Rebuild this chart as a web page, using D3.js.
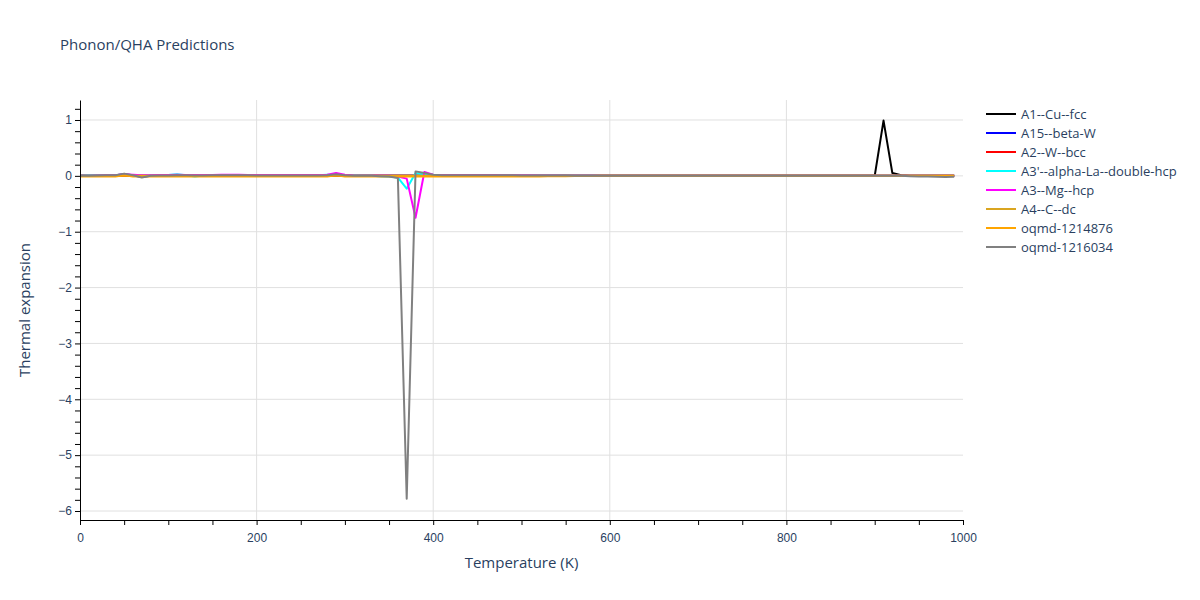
<!DOCTYPE html>
<html>
<head>
<meta charset="utf-8">
<script src="https://cdn.jsdelivr.net/npm/d3@7"></script>
<style>
  body { margin: 0; background: #fff; font-family: "Open Sans", "DejaVu Sans", sans-serif; }
  .gridline line { stroke: #e0e0e0; stroke-width: 1; }
  .axisText { fill: #2a3f5f; font-size: 15px; }
  .tickText { fill: #2a3f5f; font-size: 12px; }
  .legendText { fill: #2a3f5f; font-size: 13px; }
</style>
</head>
<body>
<div class="chart"></div>
<script>
// Data
var temperatures = [0,10,20,30,40,50,60,70,80,90,100,110,120,130,140,150,160,170,180,190,
  200,210,220,230,240,250,260,270,280,290,300,310,320,330,340,350,360,370,380,390,
  400,410,420,430,440,450,460,470,480,490,500,510,520,530,540,550,560,570,580,590,
  600,610,620,630,640,650,660,670,680,690,700,710,720,730,740,750,760,770,780,790,
  800,810,820,830,840,850,860,870,880,890,900,910,920,930,940,950,960,970,980,990];

var seriesNames = ["A1--Cu--fcc", "A15--beta-W", "A2--W--bcc", "A3'--alpha-La--double-hcp",
  "A3--Mg--hcp", "A4--C--dc", "oqmd-1214876", "oqmd-1216034"];

var seriesColors = ["black", "blue", "red", "cyan", "magenta", "goldenrod", "orange", "gray"];

var cuFcc = [0,0,0,0,0,0,0,0,0,0,0,0,0,0,0,0,0,0,0,0,
  0,0,0,0,0,0,0,0,0,0,0,0,0,0,0,0,0,0,0,0,
  0,0,0,0,0,0,0,0,0,0,0,0,0,0,0,0,0,0,0,0,
  0,0,0,0,0,0,0,0,0,0,0,0,0,0,0,0,0,0,0,0,
  0,0,0,0,0,0,0,0,0,0,0,0.99,0.05,0.01,0,0,0,0,0,0];

var betaW = [0,0,0.005,0.01,0.01,0.03,0.01,-0.02,0,0.005,0.01,0.015,0.01,0.005,0.01,0.01,0.015,0.015,0.01,0.01,
  0.01,0.01,0.01,0.01,0.01,0.01,0.01,0.01,0.01,0.02,0.01,0,0,0,0,0,0,0,0,0,
  0,0,0,0,0,0,0,0,0,0,0,0,0,0,0,0,0,0,0,0,
  0,0,0,0,0,0,0,0,0,0,0,0,0,0,0,0,0,0,0,0,
  0,0,0,0,0,0,0,0,0,0,0,0,0,0,0,0,0,0,0,0];

var wBcc = [0,0,0,0,0,0,0,0,0,0,0,0,0,0,0,0,0,0,0,0,
  0,0,0,0,0,0,0,0,0,0,0,0,0,0,0,0,0,0,0,0,
  0,0,0,0,0,0,0,0,0,0,0,0,0,0,0,0,0,0,0,0,
  0,0,0,0,0,0,0,0,0,0,0,0,0,0,0,0,0,0,0,0,
  0,0,0,0,0,0,0,0,0,0,0,0,0,0,0,0,0,0,0,0];

var alphaLa = [0,0.01,0.01,0.01,0.01,0.02,0.01,0,0.005,0.01,0.015,0.03,0.01,-0.01,0.005,0.01,0.01,0.01,0.01,0.01,
  0.01,0.01,0.01,0.01,0.01,0.01,0.01,0.01,0.02,0.02,0.01,0.005,0,0,-0.005,-0.01,-0.03,-0.23,0.05,0.03,
  0.02,0.015,0.015,0.015,0.015,0.015,0.015,0.015,0.012,0.012,0.01,0.01,0.008,0.006,0.005,0.004,0.003,0.002,0.001,0,
  0,0,0,0,0,0,0,0,0,0,0,0,0,0,0,0,0,0,0,0,
  0,0,0,0,0,0,0,0,0,0,0,0,0,0,0,0,0,0,0,0];

var mgHcp = [0,0,0.005,0.01,0.01,0.03,0.02,0.01,0.01,0.015,0.015,0.02,0.015,0.015,0.015,0.015,0.02,0.02,0.02,0.015,
  0.015,0.015,0.015,0.015,0.015,0.015,0.015,0.015,0.02,0.05,0.02,0.005,0,0,0,0,-0.01,-0.05,-0.75,0.07,
  0.02,0.015,0.015,0.015,0.015,0.015,0.015,0.015,0.012,0.012,0.01,0.01,0.008,0.006,0.005,0.004,0.003,0.002,0.001,0,
  0,0,0,0,0,0,0,0,0,0,0,0,0,0,0,0,0,0,0,0,
  0,0,0,0,0,0,0,0,0,0,0,0,0,0,0,0,0,0,0,0];

var cDc = [0,0,0,0,0,0,0,0,0,0,0,0,0,0,0,0,0,0,0,0,
  0,0,0,0,0,0,0,0,0,0,0,0,0,0,0,0,0,0,0,0,
  0,0,0,0,0,0,0,0,0,0,0,0,0,0,0,0,0,0,0,0,
  0,0,0,0,0,0,0,0,0,0,0,0,0,0,0,0,0,0,0,0,
  0,0,0,0,0,0,0,0,0,0,0,0,0,0,0,0,0,0,0,0];

var oqmd1214876 = [-0.01,-0.01,-0.01,-0.01,-0.01,0.01,-0.01,-0.01,-0.01,-0.01,-0.01,-0.01,-0.01,-0.01,-0.01,-0.01,-0.01,-0.01,-0.01,-0.01,
  -0.01,-0.01,-0.01,-0.01,-0.01,-0.01,-0.01,-0.01,-0.01,0.01,-0.01,-0.01,-0.01,-0.01,-0.01,-0.01,-0.01,-0.01,-0.01,-0.01,
  -0.01,-0.01,-0.01,-0.01,-0.01,-0.01,-0.01,-0.01,-0.01,-0.01,-0.01,-0.01,-0.01,-0.008,-0.006,-0.005,-0.004,-0.003,-0.002,0,
  0,0,0,0,0,0,0,0,0,0,0,0,0,0,0,0,0,0,0,0,
  0,0,0,0,0,0,0,0,0,0,0,0,0,0,0,0,0,0,0,0];

var oqmd1216034 = [0,0,0.005,0.01,0.01,0.04,0.01,-0.03,0,0.005,0.005,0.01,0.01,0.005,0.005,0.01,0.01,0.01,0.01,0.01,
  0.005,0.005,0.005,0.005,0.005,0.005,0.005,0.005,0.01,0.03,0.01,0,0,0,-0.005,-0.01,-0.04,-5.78,0.08,0.05,
  0.02,0.01,0.01,0.01,0.01,0.01,0.01,0.01,0.01,0.01,0.005,0.005,0.005,0.005,0.005,0.005,0,0,0,0,
  0,0,0,0,0,0,0,0,0,0,0,0,0,0,0,0,0,0,0,0,
  0,0,0,0,0,0,0,0,0,0,0,0,0,0,-0.005,-0.01,-0.01,-0.015,-0.02,-0.015];

var seriesValues = [cuFcc, betaW, wBcc, alphaLa, mgHcp, cDc, oqmd1214876, oqmd1216034];

var yMajorTicks = [-6, -5, -4, -3, -2, -1, 0, 1];
var xMajorTicks = [0, 200, 400, 600, 800, 1000];

var svgWidth = 1200;
var svgHeight = 600;

var margin = {
  top: 100,
  right: 237,
  bottom: 80,
  left: 80
};

var width = svgWidth - margin.left - margin.right;
var height = svgHeight - margin.top - margin.bottom;

var svg = d3.select(".chart")
  .append("svg")
  .attr("width", svgWidth)
  .attr("height", svgHeight);

var chartGroup = svg.append("g")
  .attr("transform", `translate(${margin.left}, ${margin.top})`);

// Step 1: scales
var xLinearScale = d3.scaleLinear()
  .domain([0, 1000])
  .range([0, width]);

var yLinearScale = d3.scaleLinear()
  .domain([-6.161, 1.358])
  .range([height, 0]);

// Step 2: gridlines
chartGroup.append("g")
  .attr("class", "gridline")
  .selectAll("line")
  .data(xMajorTicks.slice(1, -1))
  .enter()
  .append("line")
  .attr("x1", d => xLinearScale(d))
  .attr("x2", d => xLinearScale(d))
  .attr("y1", 0)
  .attr("y2", height);

chartGroup.append("g")
  .attr("class", "gridline")
  .selectAll("line")
  .data(yMajorTicks)
  .enter()
  .append("line")
  .attr("x1", 0)
  .attr("x2", width)
  .attr("y1", d => yLinearScale(d))
  .attr("y2", d => yLinearScale(d));

// Step 3: lines
var line = d3.line()
  .x((d, i) => xLinearScale(temperatures[i]))
  .y(d => yLinearScale(d));

chartGroup.append("g")
  .selectAll("path")
  .data(seriesValues)
  .enter()
  .append("path")
  .attr("d", d => line(d))
  .attr("fill", "none")
  .attr("stroke", (d, i) => seriesColors[i])
  .attr("stroke-width", 2)
  .attr("stroke-linejoin", "round");

// Step 4: axes
var bottomAxis = d3.axisBottom(xLinearScale)
  .tickValues(d3.range(0, 1001, 50))
  .tickSize(5)
  .tickFormat(d => xMajorTicks.indexOf(d) >= 0 ? d : "");

var leftAxis = d3.axisLeft(yLinearScale)
  .tickValues(d3.range(-30, 7, 1).map(d => d / 5))
  .tickSize(5)
  .tickFormat(d => yMajorTicks.indexOf(d) >= 0 ? (d < 0 ? "\u2212" + Math.abs(d) : d) : "");

var xAxisGroup = chartGroup.append("g")
  .attr("transform", `translate(0, ${height})`)
  .call(bottomAxis);

var yAxisGroup = chartGroup.append("g")
  .call(leftAxis);

[xAxisGroup, yAxisGroup].forEach(function (g) {
  g.select(".domain").attr("stroke", "black").attr("stroke-width", 1);
  g.selectAll(".tick line").attr("stroke", "black");
  g.selectAll(".tick text")
    .attr("class", "tickText")
    .attr("font-family", null)
    .attr("font-size", null);
});
xAxisGroup.select(".domain").attr("d", `M0.5,0.5H${width + 0.5}`);
yAxisGroup.select(".domain").attr("d", `M0.5,${height + 0.5}V0.5`);
xAxisGroup.selectAll(".tick text").attr("dy", "1.2em");

// Step 5: titles
svg.append("text")
  .attr("x", 60)
  .attr("y", 50)
  .attr("class", "axisText")
  .style("font-size", "15px")
  .text("Phonon/QHA Predictions");

chartGroup.append("text")
  .attr("transform", "rotate(-90)")
  .attr("y", -50)
  .attr("x", -height / 2)
  .attr("text-anchor", "middle")
  .attr("class", "axisText")
  .text("Thermal expansion");

chartGroup.append("text")
  .attr("x", width / 2)
  .attr("y", height + 48)
  .attr("text-anchor", "middle")
  .attr("class", "axisText")
  .text("Temperature (K)");

// Step 6: legend
var legend = svg.append("g")
  .attr("transform", "translate(986, 114)");

var legendItems = legend.selectAll("g")
  .data(seriesNames)
  .enter()
  .append("g")
  .attr("transform", (d, i) => `translate(0, ${i * 19})`);

legendItems.append("line")
  .attr("x1", 0)
  .attr("x2", 30)
  .attr("stroke", (d, i) => seriesColors[i])
  .attr("stroke-width", 2);

legendItems.append("text")
  .attr("x", 35)
  .attr("dy", "0.35em")
  .attr("class", "legendText")
  .text(d => d);
</script>
</body>
</html>
